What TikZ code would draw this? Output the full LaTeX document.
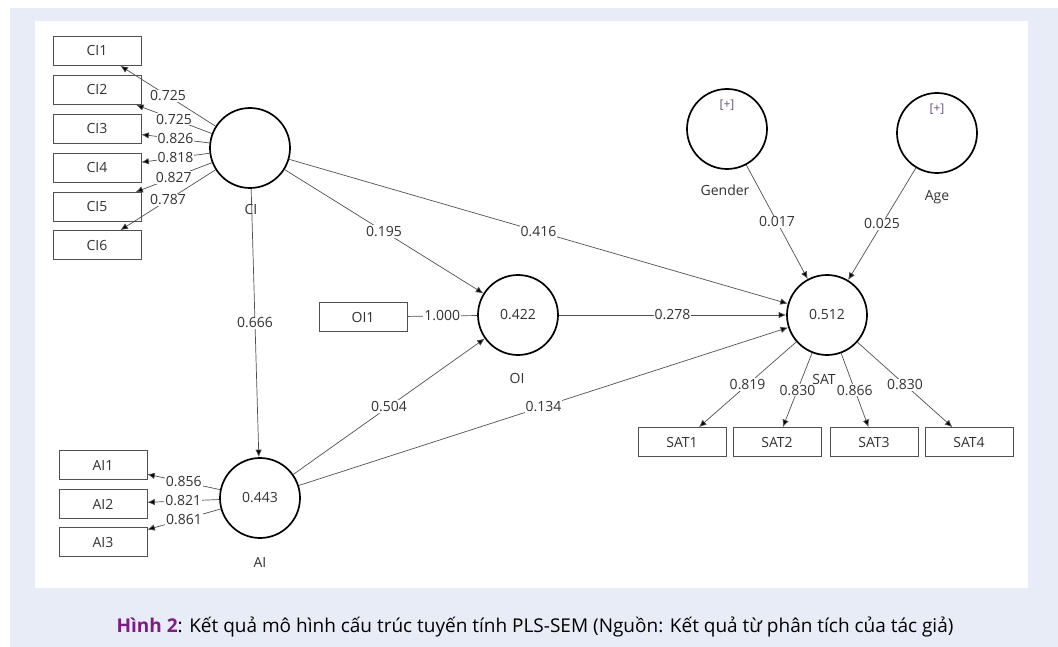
\documentclass[tikz,border=0pt]{standalone}
\usepackage{fontspec}
\setmainfont{Open Sans}
\usetikzlibrary{arrows.meta}
\definecolor{panelblue}{RGB}{232,236,247}
\definecolor{figpurple}{RGB}{125,28,130}
\definecolor{linegray}{RGB}{80,80,80}
\definecolor{txtgray}{RGB}{50,50,50}
\definecolor{plusgray}{RGB}{100,80,120}

\begin{document}
\begin{tikzpicture}[x=1pt, y=-1pt,
    lv/.style = {circle, draw=black, line width=1.7pt, minimum size=80pt,
      inner sep=0pt, text=txtgray, font=\fontsize{14}{16}\selectfont},
    mv/.style = {rectangle, draw=linegray, line width=0.7pt,
      minimum width=88pt, minimum height=29pt, inner sep=0pt,
      text=txtgray, font=\fontsize{14}{16}\selectfont},
    tag/.style = {inner sep=1pt, text=txtgray, font=\fontsize{14}{16}\selectfont},
    link/.style = {draw=linegray, line width=0.7pt,
      -{Latex[length=7.5pt,width=6.5pt,fill=black]}},
    plainlink/.style = {draw=linegray, line width=0.7pt},
    coef/.style = {pos=0.5, fill=white, inner sep=1pt, text=txtgray,
      font=\fontsize{14}{16}\selectfont}]
  \useasboundingbox (0,0) rectangle (1058,647);
  % panel
  \fill[white] (0,0) rectangle (1058,647);
  \fill[panelblue] (10,8) rectangle (1058,647);
  \fill[white] (35,21) rectangle (1028,588);

  % latent variables
  \node[lv] (CI) at (250,148) {};
  \node[lv] (AI) at (260,498) {0.443};
  \node[lv] (OI) at (518,315) {0.422};
  \node[lv] (SAT) at (827,315) {0.512};
  \node[lv] (Gender) at (727,129) {};
  \node[lv] (Age) at (937,133) {};
  \node[tag] (CIname) at (251,210) {CI};
  \node[tag] (AIname) at (260,562) {AI};
  \node[tag] (OIname) at (517,378) {OI};
  \node[tag] (SATname) at (824,379) {SAT};
  \node[tag] (Gendername) at (725,190) {Gender};
  \node[tag] (Agename) at (937,197) {Age};
  \node[tag, text=plusgray, font=\fontsize{12}{14}\selectfont] (Genderplus) at (727,105) {[+]};
  \node[tag, text=plusgray, font=\fontsize{12}{14}\selectfont] (Ageplus) at (937,109) {[+]};

  % indicators
  \foreach \i/\y in {1/51,2/90,3/129,4/168,5/207,6/245}
    \node[mv] (CI\i) at (97,\y) {CI\i};
  \foreach \i/\y in {1/465,2/504,3/542}
    \node[mv] (AI\i) at (103,\y) {AI\i};
  \node[mv] (OI1) at (363,317) {OI1};
  \foreach \i/\x in {1/682,2/777,3/874,4/969}
    \node[mv] (SAT\i) at (\x,442) {SAT\i};

  % loadings
  \foreach \i/\v in {1/0.725,2/0.725,3/0.826,4/0.818,5/0.827,6/0.787}
    \draw[link] (CI) -- node[coef] {\v} (CI\i);
  \foreach \i/\v in {1/0.856,2/0.821,3/0.861}
    \draw[link] (AI) -- node[coef] {\v} (AI\i);
  \draw[plainlink] (OI1) -- node[coef] {1.000} (OI);
  \foreach \i/\v in {1/0.819,2/0.830,3/0.866,4/0.830}
    \draw[link] (SAT) -- node[coef] {\v} (SAT\i);

  % paths
  \draw[link] (CI) -- node[coef] {0.666} (AI);
  \draw[link] (CI) -- node[coef] {0.195} (OI);
  \draw[link] (CI) -- node[coef] {0.416} (SAT);
  \draw[link] (AI) -- node[coef] {0.504} (OI);
  \draw[link] (AI) -- node[coef] {0.134} (SAT);
  \draw[link] (OI) -- node[coef] {0.278} (SAT);
  \draw[link] (Gender) -- node[coef] {0.017} (SAT);
  \draw[link] (Age) -- node[coef] {0.025} (SAT);

  % caption
  \node[font=\fontsize{19}{22}\selectfont] (caption) at (535,627)
    {\textcolor{figpurple}{\bfseries Hình 2}: Kết quả mô hình cấu trúc tuyến tính PLS-SEM (Nguồn: Kết quả từ phân tích của tác giả)};
\end{tikzpicture}
\end{document}
